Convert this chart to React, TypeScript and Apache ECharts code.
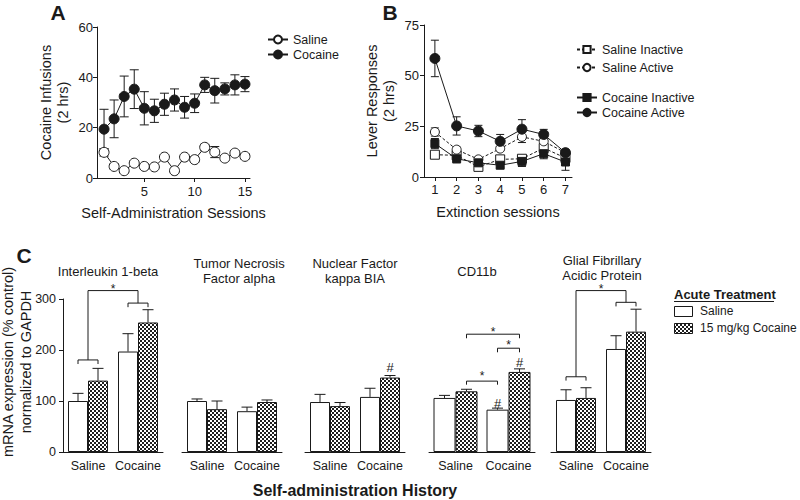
import React, { useEffect, useRef } from "react";
import * as echarts from "echarts";

const FONT = "'Liberation Sans', Arial, Helvetica, sans-serif";
const INK = "#1a1a1a";

// ---------- Panel A : self-administration ----------
const sessionsA = [1, 2, 3, 4, 5, 6, 7, 8, 9, 10, 11, 12, 13, 14, 15];
const salineMeanA = [10.2, 4.6, 2.9, 5.9, 4.6, 4.4, 8.3, 2.9, 8.3, 7.3, 12.2, 10.3, 7.9, 9.9, 8.6];
const salineErrA = [1.5, 1.0, 0.8, 1.0, 0.8, 0.8, 1.0, 0.8, 1.0, 1.0, 1.2, 2.2, 1.0, 1.0, 1.0];
const cocaineMeanA = [19.4, 23.5, 32.4, 35.3, 27.7, 26.7, 29.3, 31.0, 28.1, 29.7, 37.0, 34.7, 35.4, 37.0, 37.3];
const cocaineErrA = [7.9, 7.5, 8.1, 7.7, 6.6, 4.6, 4.4, 4.4, 4.3, 3.7, 3.0, 4.9, 2.4, 4.0, 3.0];
const xTicksA = [5, 10, 15];

// ---------- Panel B : extinction ----------
const sessionsB = [1, 2, 3, 4, 5, 6, 7];
const salineInactiveMean = [11.0, 10.7, 5.0, 8.7, 9.0, 14.3, 9.4];
const salineInactiveErr = [1.5, 1.5, 1.0, 1.0, 1.0, 3.3, 2.0];
const salineActiveMean = [22.2, 13.5, 8.7, 14.0, 19.8, 17.6, 12.0];
const salineActiveErr = [2.0, 1.3, 1.0, 1.0, 2.8, 1.5, 1.0];
const cocaineInactiveMean = [16.5, 9.0, 7.0, 5.8, 7.7, 11.5, 7.4];
const cocaineInactiveErr = [2.5, 2.0, 1.0, 1.0, 2.5, 2.5, 4.1];
const cocaineActiveMean = [58.5, 25.2, 22.7, 17.6, 23.6, 21.0, 12.0];
const cocaineActiveErr = [9.0, 4.5, 2.8, 3.4, 4.7, 2.5, 1.5];

// ---------- Panel C : mRNA expression ----------
const historyGroups = ["Saline", "Cocaine"];
const geneTitles = [
  "Interleukin 1-beta",
  "Tumor Necrosis\nFactor alpha",
  "Nuclear Factor\nkappa BIA",
  "CD11b",
  "Glial Fibrillary\nAcidic Protein",
];
// [saline history, cocaine history]
const acuteSalineMean = [[100, 197], [100, 80], [98, 108], [106, 83], [102, 202]];
const acuteSalineErr = [[15, 35], [4, 8], [15, 17], [5, 3], [20, 26]];
const acuteCocaineMean = [[140, 254], [84, 98], [90, 146], [119, 157], [106, 236]];
const acuteCocaineErr = [[24, 25], [16, 4], [7, 4], [4, 6], [20, 44]];
// brackets: [cat1, side1, cat2, side2, lineValue, leg1End, leg2End, starValue(0 = none)]
const bracketsC = [
  [[0, -1, 0, 1, 180.5, 172.5, 172.5, 0], [1, -1, 1, 1, 292, 284, 284, 0], [0, 0, 1, 0, 316.5, 180.5, 292, 319]],
  [],
  [],
  [[0, 1, 1, -1, 139, 132, 132, 150], [1, -1, 1, 1, 203.5, 195.5, 195.5, 209], [0, 1, 1, 1, 231, 223, 223, 236]],
  [[0, -1, 0, 1, 147.5, 140, 140, 0], [1, -1, 1, 1, 293.5, 285.5, 285.5, 0], [0, 0, 1, 0, 316.5, 147.5, 293.5, 319]],
];
// "#" marks: [cat, side, value]
const hashMarksC = [[], [], [[1, 1, 166]], [[1, -1, 96], [1, 1, 176]], []];
const legendC = ["Saline", "15 mg/kg Cocaine"];

// layout (pixels)
const gridC = [
  { left: 63, width: 100, bw: 20 },
  { left: 182, width: 100, bw: 20 },
  { left: 305, width: 100, bw: 20 },
  { left: 429, width: 106, bw: 22 },
  { left: 551, width: 100, bw: 20 },
];
const titleC = [
  { x: 108, y: 271 },
  { x: 239, y: 271 },
  { x: 355, y: 271 },
  { x: 477, y: 271 },
  { x: 602, y: 268 },
];

function makePattern() {
  const cv = document.createElement("canvas");
  cv.width = 4;
  cv.height = 4;
  const ctx = cv.getContext("2d")!;
  ctx.fillStyle = "#ffffff";
  ctx.fillRect(0, 0, 4, 4);
  ctx.fillStyle = "#1e1e1e";
  ctx.fillRect(0, 0, 2, 2);
  ctx.fillRect(2, 2, 2, 2);
  return { image: cv, repeat: "repeat", imageWidth: 4, imageHeight: 4 } as any;
}

const lineStyleInk = { stroke: INK, lineWidth: 1 };

function errorBarRender(cap: number) {
  return (params: any, api: any) => {
    const x = api.value(0);
    const m = api.value(1);
    const e = api.value(2);
    const top = api.coord([x, m + e]);
    const bot = api.coord([x, m - e]);
    return {
      type: "group",
      children: [
        { type: "line", shape: { x1: top[0], y1: top[1], x2: bot[0], y2: bot[1] }, style: lineStyleInk },
        { type: "line", shape: { x1: top[0] - cap / 2, y1: top[1], x2: top[0] + cap / 2, y2: top[1] }, style: lineStyleInk },
        { type: "line", shape: { x1: bot[0] - cap / 2, y1: bot[1], x2: bot[0] + cap / 2, y2: bot[1] }, style: lineStyleInk },
      ],
    };
  };
}

function barErrRender(bw: number, cap: number) {
  return (params: any, api: any) => {
    const cat = api.value(0);
    const side = api.value(1);
    const m = api.value(2);
    const e = api.value(3);
    const p0 = api.coord([cat, m]);
    const p1 = api.coord([cat, m + e]);
    const x = p0[0] + (side * bw) / 2;
    return {
      type: "group",
      children: [
        { type: "line", shape: { x1: x, y1: p0[1], x2: x, y2: p1[1] }, style: lineStyleInk },
        { type: "line", shape: { x1: x - cap / 2, y1: p1[1], x2: x + cap / 2, y2: p1[1] }, style: lineStyleInk },
      ],
    };
  };
}

function bracketRender(bw: number) {
  return (params: any, api: any) => {
    const c1 = api.value(0), s1 = api.value(1), c2 = api.value(2), s2 = api.value(3);
    const yv = api.value(4), l1 = api.value(5), l2 = api.value(6), sv = api.value(7);
    const a = api.coord([c1, yv]);
    const b = api.coord([c2, yv]);
    const x1 = a[0] + (s1 * bw) / 2;
    const x2 = b[0] + (s2 * bw) / 2;
    const y1 = api.coord([c1, l1])[1];
    const y2 = api.coord([c2, l2])[1];
    const children: any[] = [
      {
        type: "polyline",
        shape: { points: [[x1, y1], [x1, a[1]], [x2, a[1]], [x2, y2]] },
        style: { stroke: INK, lineWidth: 1, fill: "none" },
      },
    ];
    if (sv > 0) {
      const sy = api.coord([c1, sv])[1];
      children.push({
        type: "text",
        x: (x1 + x2) / 2,
        y: sy,
        style: {
          text: "*",
          fill: INK,
          fontSize: 12,
          fontFamily: FONT,
          align: "center",
          verticalAlign: "middle",
          textAlign: "center",
          textVerticalAlign: "middle",
        },
      });
    }
    return { type: "group", children };
  };
}

function hashRender(bw: number) {
  return (params: any, api: any) => {
    const cat = api.value(0);
    const side = api.value(1);
    const v = api.value(2);
    const p = api.coord([cat, v]);
    return {
      type: "text",
      x: p[0] + (side * bw) / 2,
      y: p[1],
      style: {
        text: "#",
        fill: INK,
        fontSize: 13,
        fontFamily: FONT,
        align: "center",
        verticalAlign: "middle",
        textAlign: "center",
        textVerticalAlign: "middle",
      },
    };
  };
}

const axisLine = { show: true, onZero: false, lineStyle: { color: INK, width: 1 } };
const axisTick = { show: true, length: 4, lineStyle: { color: INK, width: 1 } };

function txt(text: string, x: number, y: number, extra: any = {}) {
  return {
    type: "text",
    x,
    y,
    style: {
      text,
      fill: INK,
      fontFamily: FONT,
      fontSize: 13,
      align: "center",
      verticalAlign: "middle",
      textAlign: "center",
      textVerticalAlign: "middle",
      ...extra,
    },
  };
}

function buildOption() {
  const hatch = makePattern();

  const grid: any[] = [
    { left: 97, top: 27, width: 153, height: 151 },
    { left: 424, top: 25, width: 148, height: 152 },
    ...gridC.map((g) => ({ left: g.left, top: 299, width: g.width, height: 153 })),
  ];

  const xAxis: any[] = [
    {
      type: "value",
      gridIndex: 0,
      min: 0.3,
      max: 15.5,
      axisLine,
      axisTick: { ...axisTick, customValues: xTicksA },
      axisLabel: { customValues: xTicksA, color: INK, fontSize: 13, margin: 7, fontFamily: FONT },
      splitLine: { show: false },
      name: "Self-Administration Sessions",
      nameLocation: "middle",
      nameGap: 27,
      nameTextStyle: { color: INK, fontSize: 14.5, fontFamily: FONT },
    },
    {
      type: "value",
      gridIndex: 1,
      min: 0.5,
      max: 7.3,
      axisLine,
      axisTick: { ...axisTick, customValues: sessionsB },
      axisLabel: { customValues: sessionsB, color: INK, fontSize: 13, margin: 6, fontFamily: FONT },
      splitLine: { show: false },
      name: "Extinction sessions",
      nameLocation: "middle",
      nameGap: 27,
      nameTextStyle: { color: INK, fontSize: 14.5, fontFamily: FONT },
    },
    ...gridC.map((g, i) => ({
      type: "category",
      gridIndex: 2 + i,
      data: historyGroups,
      axisLine,
      axisTick: { show: false },
      axisLabel: { interval: 0, color: INK, fontSize: 12.5, margin: 7, fontFamily: FONT },
    })),
  ];

  const yAxis: any[] = [
    {
      type: "value",
      gridIndex: 0,
      min: 0,
      max: 60,
      interval: 20,
      axisLine,
      axisTick,
      axisLabel: { color: INK, fontSize: 13, margin: 4, fontFamily: FONT },
      splitLine: { show: false },
      name: "Cocaine Infusions\n(2 hrs)",
      nameLocation: "middle",
      nameGap: 26,
      nameTextStyle: { color: INK, fontSize: 14.5, lineHeight: 17, fontFamily: FONT },
    },
    {
      type: "value",
      gridIndex: 1,
      min: 0,
      max: 75,
      interval: 25,
      axisLine,
      axisTick,
      axisLabel: { color: INK, fontSize: 13, margin: 5, fontFamily: FONT },
      splitLine: { show: false },
      name: "Lever Responses\n(2 hrs)",
      nameLocation: "middle",
      nameGap: 27,
      nameTextStyle: { color: INK, fontSize: 14.5, lineHeight: 17, fontFamily: FONT },
    },
    ...gridC.map((g, i) =>
      i === 0
        ? {
            type: "value",
            gridIndex: 2,
            min: 0,
            max: 300,
            interval: 100,
            axisLine,
            axisTick,
            axisLabel: { color: INK, fontSize: 12.5, margin: 7, fontFamily: FONT },
            splitLine: { show: false },
          }
        : { type: "value", gridIndex: 2 + i, min: 0, max: 300, show: false, splitLine: { show: false } }
    ),
  ];

  const openSym = { color: "#ffffff", borderColor: INK, borderWidth: 1 };
  const fillSym = { color: INK, borderColor: INK, borderWidth: 1 };

  const pairs = (xs: number[], ys: number[]) => xs.map((x, i) => [x, ys[i]]);
  const triples = (xs: number[], ys: number[], es: number[]) => xs.map((x, i) => [x, ys[i], es[i]]);

  const series: any[] = [];

  // Panel A
  [
    { name: "Saline", mean: salineMeanA, err: salineErrA, style: openSym },
    { name: "Cocaine", mean: cocaineMeanA, err: cocaineErrA, style: fillSym },
  ].forEach((s) => {
    series.push({
      type: "custom",
      name: s.name + " SEM",
      xAxisIndex: 0,
      yAxisIndex: 0,
      renderItem: errorBarRender(9),
      encode: { x: 0, y: [1] },
      data: triples(sessionsA, s.mean, s.err),
      z: 2,
      silent: true,
    });
    series.push({
      type: "line",
      name: s.name,
      xAxisIndex: 0,
      yAxisIndex: 0,
      data: pairs(sessionsA, s.mean),
      symbol: "circle",
      symbolSize: 10,
      itemStyle: s.style,
      lineStyle: { color: INK, width: 1 },
      z: 3,
    });
  });

  // Panel B
  [
    { name: "Saline Inactive", mean: salineInactiveMean, err: salineInactiveErr, sym: "rect", size: 9, style: openSym, dash: [3, 2] },
    { name: "Saline Active", mean: salineActiveMean, err: salineActiveErr, sym: "circle", size: 9, style: openSym, dash: [3, 2] },
    { name: "Cocaine Inactive", mean: cocaineInactiveMean, err: cocaineInactiveErr, sym: "rect", size: 8, style: fillSym, dash: "solid" },
    { name: "Cocaine Active", mean: cocaineActiveMean, err: cocaineActiveErr, sym: "circle", size: 10, style: fillSym, dash: "solid" },
  ].forEach((s) => {
    series.push({
      type: "custom",
      name: s.name + " SEM",
      xAxisIndex: 1,
      yAxisIndex: 1,
      renderItem: errorBarRender(8),
      encode: { x: 0, y: [1] },
      data: triples(sessionsB, s.mean, s.err),
      z: 2,
      silent: true,
    });
    series.push({
      type: "line",
      name: s.name,
      xAxisIndex: 1,
      yAxisIndex: 1,
      data: pairs(sessionsB, s.mean),
      symbol: s.sym,
      symbolSize: s.size,
      itemStyle: s.style,
      lineStyle: { color: INK, width: 1, type: s.dash },
      z: 3,
    });
  });

  // Panel C
  gridC.forEach((g, gi) => {
    const ax = 2 + gi;
    series.push({
      type: "bar",
      name: "Acute saline / " + geneTitles[gi],
      xAxisIndex: ax,
      yAxisIndex: ax,
      data: acuteSalineMean[gi],
      barWidth: g.bw,
      barGap: "0%",
      itemStyle: { color: "#ffffff", borderColor: INK, borderWidth: 1 },
      z: 2,
    });
    series.push({
      type: "bar",
      name: "Acute cocaine / " + geneTitles[gi],
      xAxisIndex: ax,
      yAxisIndex: ax,
      data: acuteCocaineMean[gi],
      barWidth: g.bw,
      barGap: "0%",
      itemStyle: { color: hatch, borderColor: INK, borderWidth: 1 },
      z: 2,
    });
    const errData: number[][] = [];
    historyGroups.forEach((_, ci) => {
      errData.push([ci, -1, acuteSalineMean[gi][ci], acuteSalineErr[gi][ci]]);
      errData.push([ci, 1, acuteCocaineMean[gi][ci], acuteCocaineErr[gi][ci]]);
    });
    series.push({
      type: "custom",
      name: "SEM / " + geneTitles[gi],
      xAxisIndex: ax,
      yAxisIndex: ax,
      renderItem: barErrRender(g.bw, 11),
      encode: { x: 0, y: 2 },
      data: errData,
      z: 3,
      silent: true,
    });
    if (bracketsC[gi].length) {
      series.push({
        type: "custom",
        name: "Brackets / " + geneTitles[gi],
        xAxisIndex: ax,
        yAxisIndex: ax,
        renderItem: bracketRender(g.bw),
        encode: { x: 0, y: 4 },
        data: bracketsC[gi],
        z: 3,
        silent: true,
      });
    }
    if (hashMarksC[gi].length) {
      series.push({
        type: "custom",
        name: "Hash / " + geneTitles[gi],
        xAxisIndex: ax,
        yAxisIndex: ax,
        renderItem: hashRender(g.bw),
        encode: { x: 0, y: 2 },
        data: hashMarksC[gi],
        z: 3,
        silent: true,
      });
    }
  });

  const legendText = { color: INK, fontSize: 12.5, fontFamily: FONT };
  const legend: any[] = [
    { data: ["Saline", "Cocaine"], orient: "vertical", left: 262, top: 28, itemWidth: 20, itemHeight: 10, itemGap: 2, textStyle: legendText, selectedMode: false },
    { data: ["Saline Inactive", "Saline Active"], orient: "vertical", left: 571, top: 38, itemWidth: 20, itemHeight: 9, itemGap: 5, textStyle: legendText, selectedMode: false },
    { data: ["Cocaine Inactive", "Cocaine Active"], orient: "vertical", left: 571, top: 86, itemWidth: 20, itemHeight: 9, itemGap: 2, textStyle: legendText, selectedMode: false },
  ];

  const graphic: any[] = [
    txt("A", 58, 12, { fontSize: 21, fontWeight: "bold" }),
    txt("B", 390, 12, { fontSize: 21, fontWeight: "bold" }),
    txt("C", 24, 255, { fontSize: 21, fontWeight: "bold" }),
    ...geneTitles.map((t, i) => txt(t, titleC[i].x, titleC[i].y, { fontSize: 13, lineHeight: 15 })),
    {
      type: "text",
      x: 17,
      y: 362,
      rotation: Math.PI / 2,
      style: {
        text: "mRNA expression (% control)\nnormalized to GAPDH",
        fill: INK,
        fontFamily: FONT,
        fontSize: 14.5,
        lineHeight: 18,
        align: "center",
        verticalAlign: "middle",
        textAlign: "center",
        textVerticalAlign: "middle",
      },
    },
    txt("Self-administration History", 355, 490, { fontSize: 16, fontWeight: "bold" }),
    // legend for panel C
    txt("Acute Treatment", 674, 294, { fontSize: 13, fontWeight: "bold", align: "left", textAlign: "left" }),
    { type: "line", shape: { x1: 674, y1: 301.5, x2: 774, y2: 301.5 }, style: { stroke: INK, lineWidth: 1 } },
    { type: "rect", shape: { x: 674.5, y: 306.5, width: 18, height: 10 }, style: { fill: "#ffffff", stroke: INK, lineWidth: 1 } },
    txt(legendC[0], 700, 311, { fontSize: 12, align: "left", textAlign: "left" }),
    { type: "rect", shape: { x: 674.5, y: 323.5, width: 18, height: 10 }, style: { fill: hatch, stroke: INK, lineWidth: 1 } },
    txt(legendC[1], 700, 328, { fontSize: 12, align: "left", textAlign: "left" }),
  ];

  return {
    animation: false,
    backgroundColor: "#ffffff",
    textStyle: { fontFamily: FONT, color: INK },
    grid,
    xAxis,
    yAxis,
    legend,
    series,
    graphic,
  };
}

export default function App() {
  const ref = useRef<HTMLDivElement>(null);
  useEffect(() => {
    if (!ref.current) return;
    const chart = echarts.init(ref.current, undefined, { renderer: "svg" });
    chart.setOption(buildOption() as any);
    return () => chart.dispose();
  }, []);
  return (
    <div
      ref={ref}
      style={{ position: "fixed", left: 0, top: 0, width: 800, height: 500, background: "#fff" }}
    />
  );
}
